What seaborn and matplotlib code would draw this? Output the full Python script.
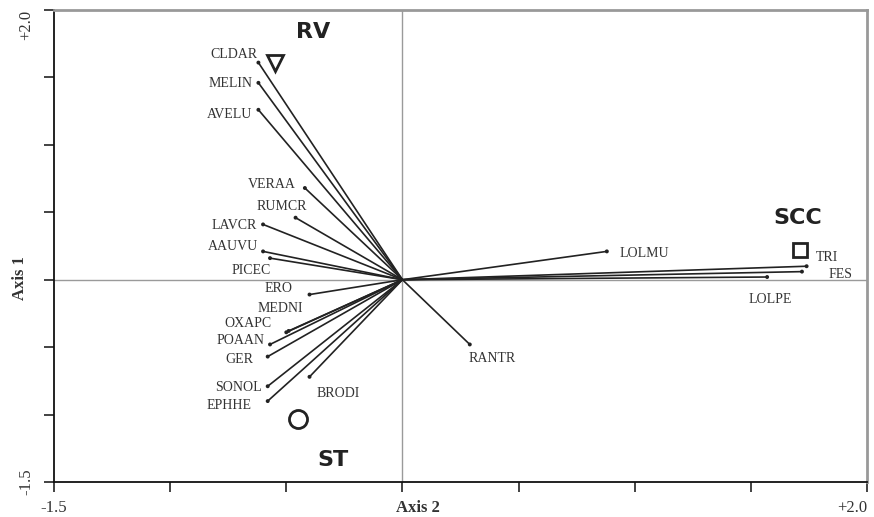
import matplotlib
matplotlib.use("Agg")
import matplotlib.pyplot as plt
import seaborn as sns
import pandas as pd

# ---------------- data ----------------
species = ["CLDAR", "MELIN", "AVELU", "VERAA", "RUMCR", "LAVCR", "AAUVU", "PICEC",
           "ERO", "MEDNI", "OXAPC", "POAAN", "GER", "SONOL", "EPHHE", "BRODI",
           "RANTR", "LOLMU", "TRI", "FES", "LOLPE"]
axis2 = [-0.62, -0.62, -0.62, -0.42, -0.46, -0.60, -0.60, -0.57,
         -0.40, -0.49, -0.50, -0.57, -0.58, -0.58, -0.58, -0.40,
         0.29, 0.88, 1.74, 1.72, 1.57]
axis1 = [1.61, 1.46, 1.26, 0.68, 0.46, 0.41, 0.21, 0.16,
         -0.11, -0.38, -0.39, -0.48, -0.57, -0.79, -0.90, -0.72,
         -0.48, 0.21, 0.10, 0.06, 0.02]

sites = ["RV", "SCC", "ST"]
site_axis2 = [-0.55, 1.71, -0.45]
site_axis1 = [1.61, 0.22, -1.03]
site_markers = ["v", "s", "o"]

x_ticks = [-1.5, -1.0, -0.5, 0.0, 0.5, 1.0, 1.5, 2.0]
y_ticks = [-1.5, -1.0, -0.5, 0.0, 0.5, 1.0, 1.5, 2.0]
x_ticklabels = ["-1.5", "", "", "", "", "", "", "+2.0"]
y_ticklabels = ["-1.5", "", "", "", "", "", "", "+2.0"]

# label offsets (pixels) for placement only
sp_offsets = {
    "CLDAR": (-24, 8), "MELIN": (-28, -1), "AVELU": (-29, -5), "VERAA": (-33, 4),
    "RUMCR": (-14, 11), "LAVCR": (-29, -1), "AAUVU": (-30, 5), "PICEC": (-19, -12),
    "ERO": (-31, 6), "MEDNI": (-8, 22), "OXAPC": (-38, 9), "POAAN": (-29, 4),
    "GER": (-28, -3), "SONOL": (-29, -1), "EPHHE": (-39, -4), "BRODI": (29, -17),
    "RANTR": (22, -14), "LOLMU": (38, -2), "TRI": (20, 9), "FES": (39, -3),
    "LOLPE": (3, -22),
}
site_offsets = {"RV": (38, 31), "SCC": (-2, 32), "ST": (35, -41)}

df = pd.DataFrame({"species": species, "axis2": axis2, "axis1": axis1})
sdf = pd.DataFrame({"site": sites, "axis2": site_axis2, "axis1": site_axis1})

# ---------------- plot ----------------
sns.set_style("white")
plt.rcParams["font.family"] = ["Liberation Serif", "DejaVu Serif"]

fig = plt.figure(figsize=(8.74, 5.17), dpi=100)
ax = fig.add_axes([54 / 874, 1 - 482 / 517, 813 / 874, 472 / 517])

ax.axhline(0, color="#9a9a9a", lw=1.0, zorder=1)
ax.axvline(0, color="#9a9a9a", lw=1.0, zorder=1)

for _, r in df.iterrows():
    ax.plot([0, r.axis2], [0, r.axis1], color="#222222", lw=1.2, zorder=2,
            solid_capstyle="butt")

sns.scatterplot(data=df, x="axis2", y="axis1", ax=ax, color="#222222", s=8,
                edgecolor="none", legend=False, zorder=3)

for m, (_, r) in zip(site_markers, sdf.iterrows()):
    size = {"v": 12, "s": 10.5, "o": 13}[m]
    ax.plot(r.axis2, r.axis1, marker=m, markersize=size, markerfacecolor="none",
            markeredgecolor="#222222", markeredgewidth=2.0, linestyle="none", zorder=4)

for _, r in df.iterrows():
    ax.annotate(r.species, (r.axis2, r.axis1), xytext=sp_offsets[r.species],
                textcoords="offset pixels", ha="center", va="center",
                fontsize=10, color="#333333")

for _, r in sdf.iterrows():
    ax.annotate(r.site, (r.axis2, r.axis1), xytext=site_offsets[r.site],
                textcoords="offset pixels", ha="center", va="center",
                fontsize=16, fontweight="bold", color="#222222",
                family="DejaVu Sans")

ax.set_xlim(-1.5, 2.0)
ax.set_ylim(-1.5, 2.0)
ax.set_xticks(x_ticks)
ax.set_xticklabels(x_ticklabels, fontsize=12, color="#333333")
ax.get_xticklabels()[-1].set_ha("right")
ax.set_yticks(y_ticks)
ax.set_yticklabels(y_ticklabels, fontsize=12, color="#333333", rotation=90,
                   va="center")
ax.get_yticklabels()[-1].set_va("top")
ax.tick_params(axis="both", direction="out", length=7, width=1.2, color="#222222",
               left=True, bottom=True)
ax.tick_params(axis="x", pad=6)
ax.tick_params(axis="y", pad=7)

ax.set_xlabel("Axis 2", fontsize=12, fontweight="bold", color="#333333")
ax.set_ylabel("Axis 1", fontsize=12, fontweight="bold", color="#333333")
ax.xaxis.set_label_coords(0.448, -0.038)
ax.yaxis.set_label_coords(-0.032, 0.433)

for side in ["left", "bottom"]:
    ax.spines[side].set_color("#111111")
    ax.spines[side].set_linewidth(1.3)
for side in ["top", "right"]:
    ax.spines[side].set_color("#999999")
    ax.spines[side].set_linewidth(2.0)

fig.savefig("out.png", dpi=100)
